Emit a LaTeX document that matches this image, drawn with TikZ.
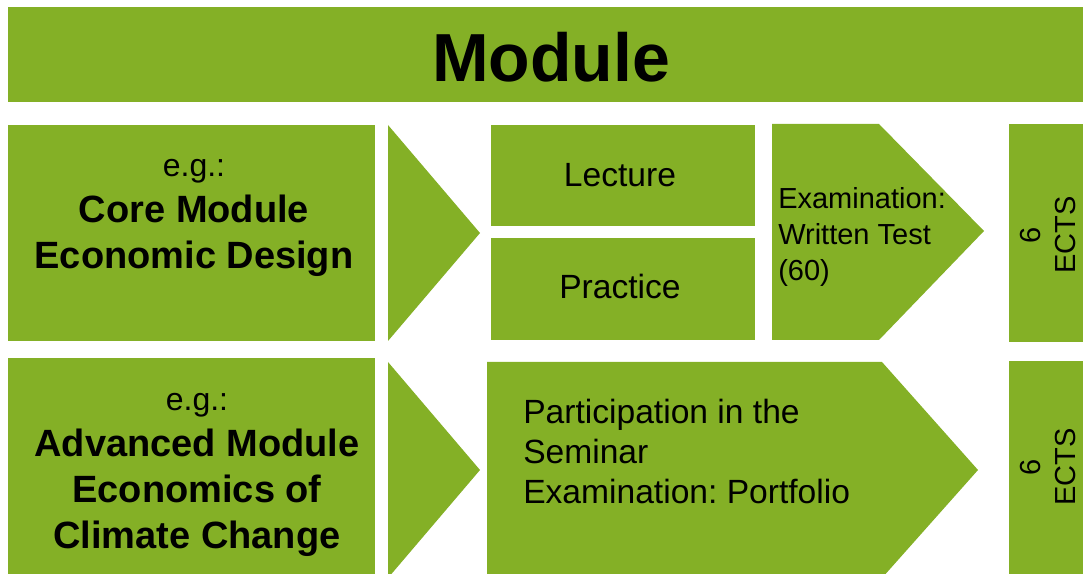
\documentclass[tikz,border=0pt]{standalone}
\usepackage{fontspec}
\setsansfont{Liberation Sans}
\definecolor{modgreen}{RGB}{132,176,38}
\frenchspacing

\begin{document}
\begin{tikzpicture}[
    x=0.75pt, y=-0.75pt,
    panel/.style={fill=modgreen},
    heading/.style={inner sep=0pt, font=\sffamily\bfseries\fontsize{51}{60}\selectfont},
    modname/.style={align=center, inner sep=0pt, font=\sffamily\bfseries\fontsize{28.5}{34.5}\selectfont},
    unit/.style={inner sep=0pt, font=\sffamily\fontsize{25.2}{30}\selectfont},
    exam/.style={align=left, inner sep=0pt, font=\sffamily\fontsize{21.75}{27}\selectfont},
    credits/.style={rotate=90, align=center, inner sep=0pt, font=\sffamily\fontsize{21.75}{26.25}\selectfont}
]
\useasboundingbox (0,0) rectangle (1083,574);
\clip (0,0) rectangle (1083,574);

% Panels
\fill[panel] (8,7) rectangle (1094,102);
\fill[panel] (8,125) rectangle (375,341);
\fill[panel] (388,125) -- (480,233) -- (388,341) -- cycle;
\fill[panel] (491,125) rectangle (755,226);
\fill[panel] (491,238) rectangle (755,340);
\fill[panel] (772,124) -- (879,124) -- (984,231) -- (879,340) -- (772,340) -- cycle;
\fill[panel] (1009,124) rectangle (1094,342);

\fill[panel] (8,358) rectangle (375,590);
\fill[panel] (388,362) -- (480,470) -- (388,578) -- cycle;
\fill[panel] (487,362) -- (882,362) -- (978,470) -- (882,578) -- (487,578) -- cycle;
\fill[panel] (1009,361) rectangle (1094,590);

% Texts
\node[heading] (title) at (551,57) {Module};

\node[modname] (core) at (194,218) {{\mdseries\fontsize{24}{30}\selectfont e.g.:}\\Core Module\\Economic Design};
\node[unit] (lecture) at (620,175) {Lecture};
\node[unit] (practice) at (620,286) {Practice};
\node[exam, anchor=west] (written) at (778,237) {Examination:\\Written Test\\(60)};
\node[credits] (ectsA) at (1048,235) {6\\ECTS};

\node[modname] (advanced) at (197,475) {{\mdseries\fontsize{24}{30}\selectfont e.g.:}\\Advanced Module\\Economics of\\Climate Change};
\node[unit, align=left, anchor=west] (seminar) at (523,451) {Participation in the\\Seminar\\Examination: Portfolio};
\node[credits] (ectsB) at (1048,467) {6\\ECTS};

\end{tikzpicture}
\end{document}
